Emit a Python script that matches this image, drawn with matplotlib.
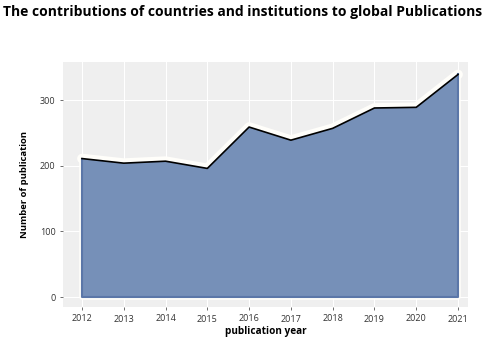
import numpy as np
import matplotlib.pyplot as plt

# publication counts per year
years = [2012, 2013, 2014, 2015, 2016, 2017, 2018, 2019, 2020, 2021]
counts = [211, 204, 207, 196, 259, 239, 257, 288, 289, 339]
yticks = [0, 100, 200, 300]

plt.rcParams['font.family'] = ['Open Sans', 'DejaVu Sans']

fig = plt.figure(figsize=(4.86, 3.37), dpi=100)
fig.patch.set_facecolor('white')
ax = fig.add_axes([0.130, 0.089, 0.833, 0.727])
ax.set_facecolor('#efefef')

# white halo under the area, area with darker rim, black top line
ax.plot(years, counts, color='#fffefa', lw=7, solid_capstyle='round', zorder=1.5)
ax.fill_between(years, 0, counts, facecolor='#7690b8', edgecolor='none', zorder=2)
ax.plot([years[0], years[0], years[-1], years[-1]], [counts[0], 0, 0, counts[-1]],
        color='#fffefa', lw=4, zorder=1.5)
ax.plot([years[0], years[0], years[-1], years[-1]], [counts[0], 0, 0, counts[-1]],
        color='#5b77a8', lw=1.5, zorder=2)
ax.plot(years, counts, color='black', lw=1.2, zorder=4)

ax.set_xlim(2011.55, 2021.24)
ax.set_ylim(-15, 358)
ax.set_xticks(years)
ax.set_yticks(yticks)
ax.tick_params(axis='both', labelsize=6.5, colors='#333333', length=2, width=0.5)
ax.tick_params(axis='x', pad=3)
for i, lab in enumerate(ax.get_xticklabels()):
  if i % 2 == 1:
    lab.set_y(-0.006)
ax.grid(True, color='white', lw=0.8, zorder=0)
ax.set_axisbelow(True)
for s in ax.spines.values():
  s.set_visible(False)

ax.set_xlabel('publication year', fontsize=7.2, fontweight='bold', labelpad=1)
ax.set_ylabel('Number of publication', fontsize=6.8, fontweight='bold', labelpad=8)

fig.text(0.5, 0.964, 'The contributions of countries and institutions to global Publications',
         ha='center', va='center', fontsize=10.0, fontweight='bold')

fig.savefig('out.png', dpi=100)
